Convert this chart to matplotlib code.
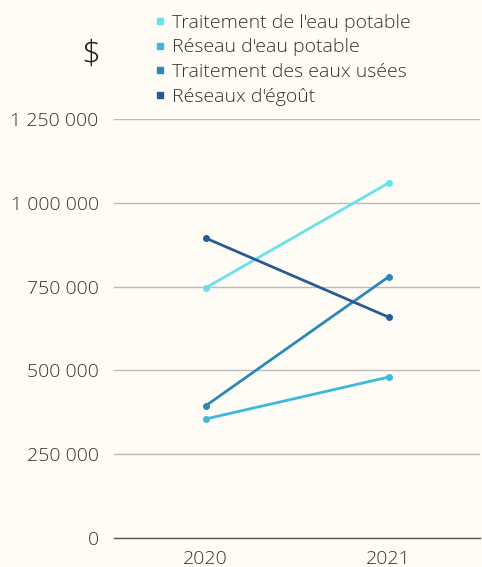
import matplotlib
matplotlib.use("Agg")
import matplotlib.pyplot as plt
from matplotlib.lines import Line2D
from matplotlib.ticker import FuncFormatter

years = ["2020", "2021"]
series_names = [
    "Traitement de l'eau potable",
    "Réseau d'eau potable",
    "Traitement des eaux usées",
    "Réseaux d'égoût",
]
eau_potable_traitement = [746000, 1059000]
eau_potable_reseau = [355000, 480000]
eaux_usees_traitement = [394000, 779000]
egout_reseau = [895000, 659000]
colors = ["#66e3e8", "#3cb9db", "#2b87b8", "#2a5a95"]

plt.rcParams["font.family"] = ["Open Sans", "DejaVu Sans"]
bg = "#fffcf5"

fig = plt.figure(figsize=(4.82, 5.67), dpi=100, facecolor=bg)
ax = fig.add_axes([114 / 482, 29 / 567, 366 / 482, (538 - 119) / 567])
ax.set_facecolor(bg)

values = [eau_potable_traitement, eau_potable_reseau, eaux_usees_traitement, egout_reseau]
x = range(len(years))
for name, vals, c in zip(series_names, values, colors):
    ax.plot(x, vals, color=c, lw=2.0, marker="o", ms=4, solid_capstyle="round")

ax.set_xlim(-0.5, 1.5)
ax.set_ylim(0, 1250000)
ax.set_xticks(list(x))
ax.set_xticklabels(years)
ax.set_yticks([0, 250000, 500000, 750000, 1000000, 1250000])
ax.yaxis.set_major_formatter(FuncFormatter(lambda v, p: "{:,}".format(int(v)).replace(",", " ")))
ax.tick_params(length=0, labelsize=14, colors="#333333")
ax.tick_params(axis="y", pad=11)
ax.tick_params(axis="x", pad=9)
for lab in ax.get_xticklabels() + ax.get_yticklabels():
    lab.set_fontweight("light")
ax.grid(axis="y", color="#bbbbbb", lw=1)
ax.set_axisbelow(True)
for s in ["top", "right", "left"]:
    ax.spines[s].set_visible(False)
ax.spines["bottom"].set_color("#555555")
ax.spines["bottom"].set_linewidth(1)

fig.text(91 / 482, 1 - 55 / 567, "$", fontsize=24, fontweight="light", color="#222222",
         ha="center", va="center")

handles = [Line2D([], [], color=c, marker="s", ls="none", ms=5) for c in colors]
leg = fig.legend(handles, series_names, loc="upper left", bbox_to_anchor=(146 / 482, 1 - 6 / 567),
                 frameon=False, fontsize=14, handlelength=0.6, handletextpad=0.35,
                 labelspacing=0.34, borderaxespad=0)
for t in leg.get_texts():
    t.set_fontweight("light")
    t.set_color("#333333")

fig.savefig("out.png", dpi=100, facecolor=bg)
